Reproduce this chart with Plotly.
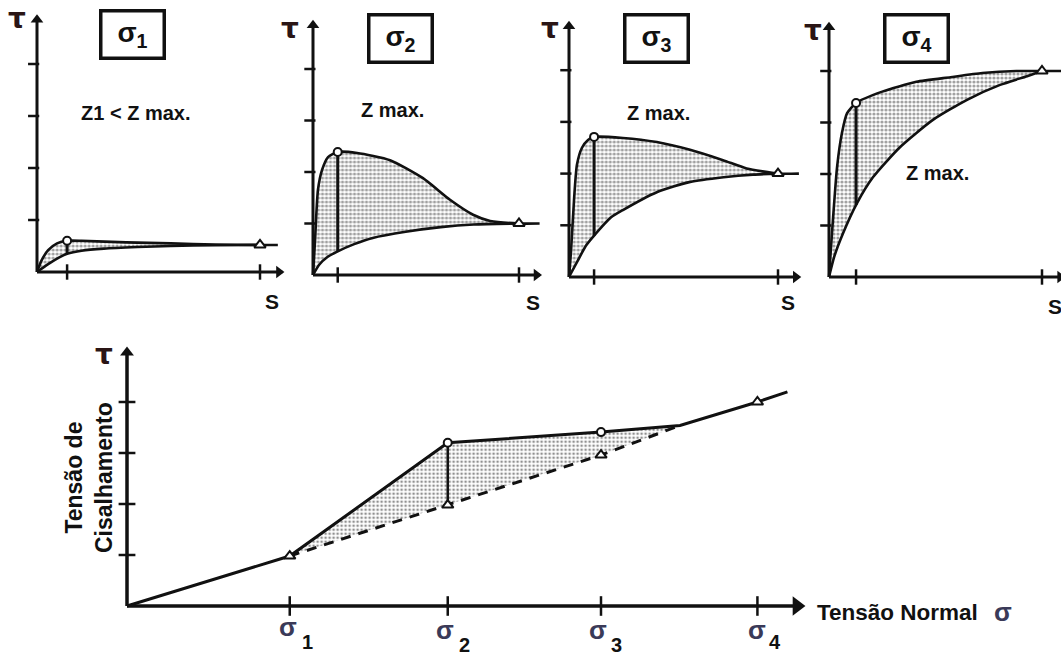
import plotly.graph_objects as go

W, H = 1061, 657

# ---------------- data: four direct-shear curves (tau vs displacement s) ----------------
p1_peak_s = [0, 0.2, 0.5, 0.9, 1.35, 2, 4, 6, 8, 10, 10.8]
p1_peak_t = [0, 0.22, 0.42, 0.55, 0.6, 0.6, 0.57, 0.55, 0.53, 0.52, 0.52]
p1_res_s = [0, 0.5, 1.0, 1.35, 2, 3, 4.5, 6, 8, 10]
p1_res_t = [0, 0.15, 0.28, 0.35, 0.41, 0.45, 0.48, 0.5, 0.515, 0.52]

p2_peak_s = [0, 0.1, 0.24, 0.44, 0.73, 1.2, 2.14, 3.74, 5.34, 6.65, 7.77, 8.6, 10, 11]
p2_peak_t = [0, 0.68, 1.65, 2.04, 2.29, 2.39, 2.37, 2.23, 1.88, 1.46, 1.17, 1.05, 1.0, 1.0]
p2_res_s = [0, 0.3, 0.7, 1.2, 2, 2.9, 4.5, 6.2, 7.8, 10]
p2_res_t = [0, 0.2, 0.35, 0.46, 0.6, 0.72, 0.84, 0.93, 0.98, 1.0]

p3_peak_s = [0, 0.1, 0.24, 0.38, 0.62, 0.91, 1.2, 2.58, 4.2, 5.79, 7.37, 8.5, 10, 11]
p3_peak_t = [0, 0.52, 1.49, 2.17, 2.5, 2.65, 2.71, 2.69, 2.61, 2.46, 2.26, 2.1, 2.0, 2.0]
p3_res_s = [0, 0.4, 0.8, 1.2, 2, 2.6, 4.2, 5.8, 7.4, 8.8, 10]
p3_res_t = [0, 0.3, 0.6, 0.8, 1.15, 1.3, 1.64, 1.84, 1.93, 1.98, 2.0]

p4_peak_s = [0, 0.14, 0.38, 0.61, 0.85, 1.27, 2.5, 4.1, 5.7, 7.2, 8.8, 10, 11]
p4_peak_t = [0, 0.85, 2.14, 2.8, 3.18, 3.38, 3.6, 3.79, 3.88, 3.96, 4.0, 4.0, 4.0]
p4_res_s = [0, 0.25, 0.66, 1.31, 2.07, 3.33, 4.88, 6.48, 8.03, 9.3, 10]
p4_res_t = [0, 0.4, 0.85, 1.43, 1.94, 2.52, 3.05, 3.44, 3.73, 3.9, 4.0]

peak_s = [1.35, 1.2, 1.2, 1.27]          # displacement at peak
peak_tau = [0.6, 2.39, 2.71, 3.38]       # peak strength
peak_low = [0.35, 0.46, 0.8, 1.4]        # residual curve at peak displacement
res_s = [10, 10, 10, 10]                 # displacement at residual
res_tau = [0.52, 1.0, 2.0, 4.0]          # residual strength
tau_ticks = [1, 2, 3, 4]
panel_titles = ["1", "2", "3", "4"]
panel_notes = ["Z1 &lt; Z max.", "Z max.", "Z max.", "Z max."]

# ---------------- data: envelope (tau vs sigma) ----------------
sigma_ticks = [1.03, 2.03, 3.0, 3.99]
sigma_labels = ["1", "2", "3", "4"]
env_peak_sigma = [0, 1.03, 2.03, 3.0, 3.5, 3.99, 4.18]
env_peak_tau = [0, 0.98, 3.2, 3.41, 3.54, 4.0, 4.2]
env_res_sigma = [1.03, 2.03, 3.0, 3.5]
env_res_tau = [0.98, 1.98, 2.96, 3.54]
env_circle_sigma = [2.03, 3.0]
env_circle_tau = [3.2, 3.41]
env_tri_sigma = [1.03, 2.03, 3.0, 3.99]
env_tri_tau = [0.98, 1.98, 2.96, 4.0]

# ---------------- layout helpers ----------------
fig = go.Figure()
layout = {}


def make_axes(i, ox, oy, kx, ky, xr, yr):
    x0 = max(0.0, (ox + xr[0] * kx) / W)
    x1 = min(1.0, (ox + xr[1] * kx) / W)
    y0 = max(0.0, 1 - (oy - yr[0] * ky) / H)
    y1 = min(1.0, 1 - (oy - yr[1] * ky) / H)
    xra = [(x0 * W - ox) / kx, (x1 * W - ox) / kx]
    yra = [(oy - (1 - y0) * H) / ky, (oy - (1 - y1) * H) / ky]
    sfx = "" if i == 1 else str(i)
    layout["xaxis" + sfx] = dict(domain=[x0, x1], range=xra, visible=False,
                                 anchor="y" + sfx, fixedrange=True)
    layout["yaxis" + sfx] = dict(domain=[y0, y1], range=yra, visible=False,
                                 anchor="x" + sfx, fixedrange=True)
    return "x" + sfx, "y" + sfx


BLACK = "#111111"
panels = [
    dict(ox=37, oy=272, kx=22.3, ky=52.0),
    dict(ox=313, oy=275, kx=20.6, ky=51.5),
    dict(ox=569, oy=277, kx=20.9, ky=51.7),
    dict(ox=829, oy=277, kx=21.3, ky=51.5),
]
curves = [
    (p1_peak_s, p1_peak_t, p1_res_s, p1_res_t),
    (p2_peak_s, p2_peak_t, p2_res_s, p2_res_t),
    (p3_peak_s, p3_peak_t, p3_res_s, p3_res_t),
    (p4_peak_s, p4_peak_t, p4_res_s, p4_res_t),
]
box_px = [(132, 34), (400, 38), (656, 39), (916, 38)]
note_px = [(136, 113), (392, 110), (658, 113), (937, 173)]
s_px = [(272, 301), (533, 302), (788, 303), (1055, 307)]
tau_px = [(17, 18), (290, 28), (550, 28), (813, 30)]

annotations = []


def px_ann(text, px, py, size, color=BLACK, family="Liberation Sans", **kw):
    annotations.append(dict(text=text, x=px / W, y=1 - py / H, xref="paper", yref="paper",
                            showarrow=False, xanchor="center", yanchor="middle",
                            font=dict(size=size, color=color, family=family), **kw))


for i, (pp, cv) in enumerate(zip(panels, curves)):
    xa, ya = make_axes(i + 1, pp["ox"], pp["oy"], pp["kx"], pp["ky"], [-0.8, 11.5], [-0.4, 5.4])
    ps, pt, rs, rt = cv
    # stippled area between peak curve and residual curve
    up_s = [s for s in ps if s <= res_s[i]]
    up_t = [t for s, t in zip(ps, pt) if s <= res_s[i]]
    fig.add_trace(go.Scatter(x=up_s + rs[::-1], y=up_t + rt[::-1], xaxis=xa, yaxis=ya,
                             mode="lines", fill="toself", line=dict(width=0),
                             fillcolor="rgba(0,0,0,0)",
                             fillpattern=dict(shape=".", fgcolor="#444444", bgcolor="white",
                                              size=4, solidity=0.5),
                             hoverinfo="skip", showlegend=False))
    fig.add_trace(go.Scatter(x=ps, y=pt, xaxis=xa, yaxis=ya, mode="lines",
                             line=dict(color=BLACK, width=2.6, shape="spline", smoothing=0.6),
                             hoverinfo="skip", showlegend=False))
    fig.add_trace(go.Scatter(x=rs, y=rt, xaxis=xa, yaxis=ya, mode="lines",
                             line=dict(color=BLACK, width=2.6, shape="spline", smoothing=0.6),
                             hoverinfo="skip", showlegend=False))
    # vertical drop from peak to residual curve
    fig.add_trace(go.Scatter(x=[peak_s[i], peak_s[i]], y=[peak_low[i], peak_tau[i]],
                             xaxis=xa, yaxis=ya, mode="lines",
                             line=dict(color=BLACK, width=3),
                             hoverinfo="skip", showlegend=False))
    # axes
    fig.add_trace(go.Scatter(x=[0, 0, None, 0, 11], y=[4.9, 0, None, 0, 0], xaxis=xa, yaxis=ya,
                             mode="lines", line=dict(color=BLACK, width=3),
                             hoverinfo="skip", showlegend=False))
    fig.add_trace(go.Scatter(x=[0], y=[4.85], xaxis=xa, yaxis=ya, mode="markers",
                             marker=dict(symbol="triangle-up", size=11, color=BLACK),
                             cliponaxis=False, hoverinfo="skip", showlegend=False))
    fig.add_trace(go.Scatter(x=[10.85], y=[0], xaxis=xa, yaxis=ya, mode="markers",
                             marker=dict(symbol="triangle-right", size=11, color=BLACK),
                             cliponaxis=False, hoverinfo="skip", showlegend=False))
    fig.add_trace(go.Scatter(x=[-0.15] * len(tau_ticks), y=tau_ticks, xaxis=xa, yaxis=ya,
                             mode="markers",
                             marker=dict(symbol="line-ew", size=8,
                                         line=dict(color=BLACK, width=2.5)),
                             cliponaxis=False, hoverinfo="skip", showlegend=False))
    fig.add_trace(go.Scatter(x=[peak_s[i], res_s[i]], y=[0, 0], xaxis=xa, yaxis=ya,
                             mode="markers",
                             marker=dict(symbol="line-ns", size=11,
                                         line=dict(color=BLACK, width=2.5)),
                             cliponaxis=False, hoverinfo="skip", showlegend=False))
    # peak circle and residual triangle
    fig.add_trace(go.Scatter(x=[peak_s[i]], y=[peak_tau[i]], xaxis=xa, yaxis=ya, mode="markers",
                             marker=dict(symbol="circle", size=8, color="white",
                                         line=dict(color=BLACK, width=2)),
                             cliponaxis=False, hoverinfo="skip", showlegend=False))
    fig.add_trace(go.Scatter(x=[res_s[i]], y=[res_tau[i]], xaxis=xa, yaxis=ya, mode="markers",
                             marker=dict(symbol="triangle-up", size=10, color="white",
                                         line=dict(color=BLACK, width=2)),
                             cliponaxis=False, hoverinfo="skip", showlegend=False))
    # texts
    bx, by = box_px[i]
    px_ann("<b>σ<sub>" + panel_titles[i] + "</sub></b>", bx, by, 28, bordercolor=BLACK,
           borderwidth=3.5, borderpad=0, width=60, height=44)
    nx, ny = note_px[i]
    px_ann("<b>" + panel_notes[i] + "</b>", nx, ny, 20)
    sx, sy = s_px[i]
    px_ann("<b>S</b>", sx, sy, 21)
    tx, ty = tau_px[i]
    px_ann("<b>τ</b>", tx, ty, 28, color="#2a1515", family="DejaVu Sans")

# ---------------- envelope panel ----------------
xa, ya = make_axes(5, 127, 606, 158.0, 51.0, [-0.3, 4.7], [-0.4, 5.3])
poly_s = env_peak_sigma[1:5] + env_res_sigma[::-1]
poly_t = env_peak_tau[1:5] + env_res_tau[::-1]
fig.add_trace(go.Scatter(x=poly_s, y=poly_t, xaxis=xa, yaxis=ya, mode="lines", fill="toself",
                         line=dict(width=0), fillcolor="rgba(0,0,0,0)",
                         fillpattern=dict(shape=".", fgcolor="#222222", bgcolor="white",
                                          size=4, solidity=0.35),
                         hoverinfo="skip", showlegend=False))
fig.add_trace(go.Scatter(x=env_res_sigma, y=env_res_tau, xaxis=xa, yaxis=ya, mode="lines",
                         line=dict(color=BLACK, width=3, dash="10px,8px"),
                         hoverinfo="skip", showlegend=False))
fig.add_trace(go.Scatter(x=env_peak_sigma, y=env_peak_tau, xaxis=xa, yaxis=ya, mode="lines",
                         line=dict(color=BLACK, width=3),
                         hoverinfo="skip", showlegend=False))
fig.add_trace(go.Scatter(x=[env_circle_sigma[0], env_circle_sigma[0]],
                         y=[env_tri_tau[1], env_circle_tau[0]], xaxis=xa, yaxis=ya,
                         mode="lines", line=dict(color=BLACK, width=2.5),
                         hoverinfo="skip", showlegend=False))
fig.add_trace(go.Scatter(x=[0, 0, None, 0, 4.25], y=[5.0, 0, None, 0, 0], xaxis=xa, yaxis=ya,
                         mode="lines", line=dict(color=BLACK, width=3.5),
                         hoverinfo="skip", showlegend=False))
fig.add_trace(go.Scatter(x=[0], y=[4.97], xaxis=xa, yaxis=ya, mode="markers",
                         marker=dict(symbol="triangle-up", size=12, color=BLACK),
                         cliponaxis=False, hoverinfo="skip", showlegend=False))
fig.add_trace(go.Scatter(x=[4.24], y=[0], xaxis=xa, yaxis=ya, mode="markers",
                         marker=dict(symbol="triangle-right", size=17, color=BLACK),
                         cliponaxis=False, hoverinfo="skip", showlegend=False))
fig.add_trace(go.Scatter(x=[0] * len(tau_ticks), y=tau_ticks, xaxis=xa, yaxis=ya, mode="markers",
                         marker=dict(symbol="line-ew", size=12, line=dict(color=BLACK, width=2.5)),
                         cliponaxis=False, hoverinfo="skip", showlegend=False))
fig.add_trace(go.Scatter(x=sigma_ticks, y=[0] * len(sigma_ticks), xaxis=xa, yaxis=ya,
                         mode="markers",
                         marker=dict(symbol="line-ns", size=14, line=dict(color=BLACK, width=2.5)),
                         cliponaxis=False, hoverinfo="skip", showlegend=False))
fig.add_trace(go.Scatter(x=env_circle_sigma, y=env_circle_tau, xaxis=xa, yaxis=ya, mode="markers",
                         marker=dict(symbol="circle", size=8, color="white",
                                     line=dict(color=BLACK, width=2)),
                         cliponaxis=False, hoverinfo="skip", showlegend=False))
fig.add_trace(go.Scatter(x=env_tri_sigma, y=env_tri_tau, xaxis=xa, yaxis=ya, mode="markers",
                         marker=dict(symbol="triangle-up", size=10, color="white",
                                     line=dict(color=BLACK, width=2)),
                         cliponaxis=False, hoverinfo="skip", showlegend=False))

# envelope texts
sig_px = [(288, 627, 307, 642), (445, 630, 464, 645), (598, 630, 616, 645), (757, 630, 775, 642)]
for lab, (gx, gy, dx, dy) in zip(sigma_labels, sig_px):
    px_ann("<b>σ</b>", gx, gy, 26, color="#3a3a58")
    px_ann("<b>" + lab + "</b>", dx, dy, 20)
px_ann("<b>τ</b>", 104, 354, 28, color="#2a1515", family="DejaVu Sans")
px_ann("<b>Tensão de<br>Cisalhamento</b>", 89, 478, 23, textangle=-90)
annotations.append(dict(text="<b>Tensão Normal</b>", x=815 / W, y=1 - 612 / H,
                        xref="paper", yref="paper", showarrow=False, xanchor="left",
                        yanchor="middle", font=dict(size=22.5, color=BLACK, family="Liberation Sans")))
px_ann("<b>σ</b>", 1003, 612, 26, color="#3a3a58")

fig.update_layout(width=W, height=H, margin=dict(l=0, r=0, t=0, b=0),
                  paper_bgcolor="white", plot_bgcolor="rgba(0,0,0,0)",
                  showlegend=False, annotations=annotations, **layout)
fig.write_html("out.html", config={"displayModeBar": False})
